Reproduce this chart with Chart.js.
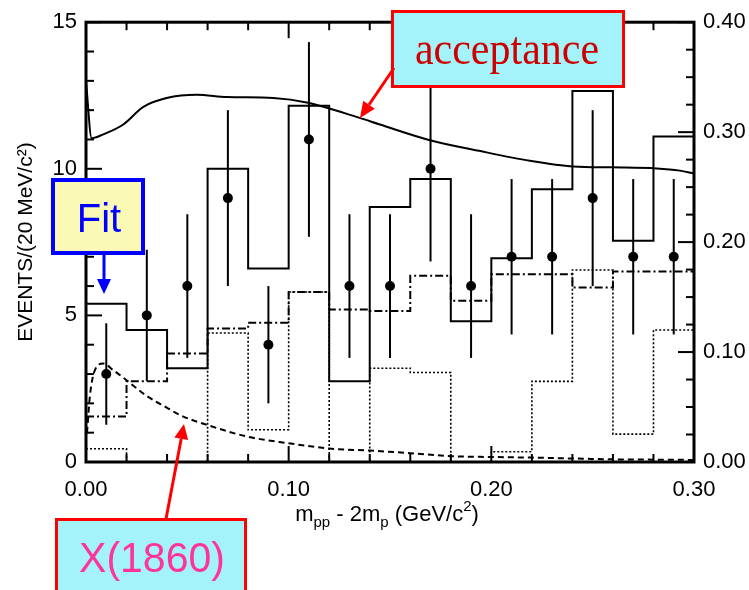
<!DOCTYPE html>
<html>
<head>
<meta charset="utf-8">
<script src="https://cdn.jsdelivr.net/npm/chart.js@4.4.1/dist/chart.umd.min.js"></script>
<style>
html,body{margin:0;padding:0;background:#fff;}
#wrap{width:749px;height:590px;position:relative;}
</style>
</head>
<body>
<div id="wrap"><canvas id="c" width="749" height="590"></canvas></div>
<script>
// ---- data ----
const binLowEdges = [0.00,0.02,0.04,0.06,0.08,0.10,0.12,0.14,0.16,0.18,0.20,0.22,0.24,0.26,0.28];
const binUpperEdge = 0.30;
const binCenters  = [0.01,0.03,0.05,0.07,0.09,0.11,0.13,0.15,0.17,0.19,0.21,0.23,0.25,0.27,0.29];
const eventCounts = [3,5,6,9,4,11,6,6,10,6,7,7,9,7,7];
const eventErrors = [1.73,2.24,2.45,3.0,2.0,3.32,2.45,2.45,3.16,2.45,2.65,2.65,3.0,2.65,2.65];
const fitTotal    = [5.4,4.5,3.2,10.0,6.6,12.15,2.75,8.7,9.65,4.8,6.95,9.3,12.65,7.55,11.1];
const fitDashDot  = [1.55,2.75,3.7,4.55,4.75,5.8,5.2,5.15,6.35,5.5,6.4,6.4,5.95,6.5,6.5];
const fitDotted   = [0.45,0,0,4.4,1.1,5.8,0,3.2,3.05,0,0.35,2.75,6.55,0.95,4.5];
const x1860X = [0.0005,0.002,0.0045,0.0085,0.0135,0.02,0.03,0.04,0.0464,0.06,0.08,0.10,0.12,0.14,0.16,0.18,0.20,0.22,0.24,0.26,0.28,0.30];
const x1860Y = [1.0,2.3,3.15,3.36,3.13,2.79,2.25,1.85,1.6,1.26,0.86,0.64,0.46,0.39,0.3,0.2,0.17,0.15,0.12,0.09,0.08,0.07];
const accX = [0.0,0.0028,0.0085,0.0184,0.0283,0.0398,0.0546,0.0694,0.0924,0.1089,0.135,0.145,0.1697,0.194,0.219,0.2405,0.26,0.2816,0.293,0.30];
const accY = [0.3465,0.2945,0.298,0.307,0.323,0.331,0.334,0.332,0.331,0.327,0.313,0.307,0.2927,0.283,0.274,0.2688,0.268,0.267,0.265,0.2624];
const xTickValues  = [0.00,0.10,0.20,0.30];
const yTickValues  = [0,5,10,15];
const y1TickValues = [0.00,0.10,0.20,0.30,0.40];

// ---- helpers ----
function histPoints(vals){
  const pts = binLowEdges.map((e,i)=>({x:e,y:vals[i]}));
  pts.push({x:binUpperEdge,y:vals[vals.length-1]});
  return pts;
}
const SANS = "'Liberation Sans', Arial, Helvetica, sans-serif";
Chart.defaults.font.family = SANS;
Chart.defaults.color = '#000';

function arrow(ctx,x1,y1,x2,y2,color,lw,hl,hw){
  const a = Math.atan2(y2-y1,x2-x1);
  const bx = x2 - hl*Math.cos(a), by = y2 - hl*Math.sin(a);
  ctx.save();
  ctx.strokeStyle=color; ctx.fillStyle=color; ctx.lineWidth=lw;
  ctx.beginPath(); ctx.moveTo(x1,y1); ctx.lineTo(bx,by); ctx.stroke();
  ctx.beginPath();
  ctx.moveTo(x2,y2);
  ctx.lineTo(bx + hw/2*Math.sin(a), by - hw/2*Math.cos(a));
  ctx.lineTo(bx - hw/2*Math.sin(a), by + hw/2*Math.cos(a));
  ctx.closePath(); ctx.fill();
  ctx.restore();
}
function box(ctx,x,y,w,h,fill,stroke,lw){
  ctx.save();
  ctx.fillStyle=fill; ctx.fillRect(x,y,w,h);
  ctx.strokeStyle=stroke; ctx.lineWidth=lw; ctx.strokeRect(x,y,w,h);
  ctx.restore();
}
function label(ctx,text,cx,base,font,color,sy){
  ctx.save();
  ctx.font=font; ctx.fillStyle=color; ctx.textAlign='center'; ctx.textBaseline='alphabetic';
  ctx.translate(cx,base); ctx.scale(1,sy||1);
  ctx.fillText(text,0,0);
  ctx.restore();
}

const framePlugin = {
  id:'frame',
  beforeDatasetsDraw(chart){
    // error bars
    const ctx=chart.ctx, xs=chart.scales.x, ys=chart.scales.y;
    ctx.save(); ctx.strokeStyle='#000'; ctx.lineWidth=2;
    binCenters.forEach((c,i)=>{
      const px = xs.getPixelForValue(c);
      ctx.beginPath();
      ctx.moveTo(px, ys.getPixelForValue(eventCounts[i]+eventErrors[i]));
      ctx.lineTo(px, ys.getPixelForValue(eventCounts[i]-eventErrors[i]));
      ctx.stroke();
    });
    ctx.restore();
  },
  afterDatasetsDraw(chart){
    const ctx=chart.ctx, a=chart.chartArea, xs=chart.scales.x, ys=chart.scales.y, y1=chart.scales.y1;
    ctx.save();
    ctx.strokeStyle='#000'; ctx.lineWidth=2;
    for(let k=0;k<=15;k++){
      const v=k*0.02, px=xs.getPixelForValue(v);
      const L = (k%5===0)?16:8;
      ctx.beginPath(); ctx.moveTo(px,a.bottom); ctx.lineTo(px,a.bottom-L); ctx.stroke();
      ctx.beginPath(); ctx.moveTo(px,a.top); ctx.lineTo(px,a.top+L); ctx.stroke();
    }
    for(let k=0;k<=15;k++){
      const py=ys.getPixelForValue(k); const L=(k%5===0)?16:8;
      ctx.beginPath(); ctx.moveTo(a.left,py); ctx.lineTo(a.left+L,py); ctx.stroke();
    }
    for(let k=0;k<=16;k++){
      const py=y1.getPixelForValue(k*0.025); const L=(k%4===0)?16:8;
      ctx.beginPath(); ctx.moveTo(a.right,py); ctx.lineTo(a.right-L,py); ctx.stroke();
    }
    ctx.lineWidth=3;
    ctx.strokeRect(a.left,a.top,a.right-a.left,a.bottom-a.top);
    ctx.restore();
  },
  afterDraw(chart){
    const ctx=chart.ctx;
    ctx.save();
    ctx.fillStyle='#000'; ctx.textBaseline='alphabetic'; ctx.textAlign='left';
    const parts=[['m',22,0],['pp',15,6],[' - 2m',22,0],['p',15,6],[' (GeV/c',22,0],['2',15,-10],[')',22,0]];
    let w=0; parts.forEach(p=>{ctx.font=p[1]+'px '+SANS; w+=ctx.measureText(p[0]).width;});
    let x=387-w/2; const base=521;
    parts.forEach(p=>{ctx.font=p[1]+'px '+SANS; ctx.fillText(p[0],x,base+p[2]); x+=ctx.measureText(p[0]).width;});
    ctx.restore();
    // annotations
    box(ctx,392.5,11.5,231,75,'#a5f3fa','#ff0000',3);
    label(ctx,'acceptance',507,64,"42px 'Liberation Serif', 'Times New Roman', serif",'#cc0000',1.1);
    arrow(ctx,394,68,360,118,'#ff0000',3,16,14);
    box(ctx,53,180,90,73,'#fafab4','#0000ff',4);
    label(ctx,'Fit',99,232,'40px '+SANS,'#0000ff',1);
    arrow(ctx,104,255,104,294,'#0000ff',3,15,14);
    arrow(ctx,166,519,184,424,'#ff0000',3,15,14);
    box(ctx,56.5,519.5,189,90,'#a5f3fa','#ff0000',3);
    label(ctx,'X(1860)',152,572,'41px '+SANS,'#ff3399',1.05);
  }
};

const tickFont = {size:22, family:SANS};
new Chart(document.getElementById('c'),{
  type:'line',
  data:{datasets:[
    {label:'Fit total', data:histPoints(fitTotal), stepped:'before', borderColor:'#000', borderWidth:2, pointRadius:0, fill:false, yAxisID:'y'},
    {label:'Fit component', data:histPoints(fitDashDot), stepped:'before', borderColor:'#000', borderWidth:2, borderDash:[8,3,2,3], pointRadius:0, fill:false, yAxisID:'y'},
    {label:'Fit component 2', data:histPoints(fitDotted), stepped:'before', borderColor:'#000', borderWidth:1.6, borderDash:[2,2], pointRadius:0, fill:false, yAxisID:'y'},
    {label:'X(1860)', data:x1860X.map((v,i)=>({x:v,y:x1860Y[i]})), borderColor:'#000', borderWidth:2, borderDash:[6,4], pointRadius:0, cubicInterpolationMode:'monotone', fill:false, yAxisID:'y'},
    {label:'acceptance', data:accX.map((v,i)=>({x:v,y:accY[i]})), borderColor:'#000', borderWidth:2, pointRadius:0, cubicInterpolationMode:'monotone', fill:false, yAxisID:'y1'},
    {label:'Data', data:binCenters.map((v,i)=>({x:v,y:eventCounts[i]})), showLine:false, pointRadius:5, pointHoverRadius:5, pointBackgroundColor:'#000', pointBorderColor:'#000', pointBorderWidth:0, yAxisID:'y'}
  ]},
  options:{
    responsive:false, animation:false, events:[],
    layout:{padding:{top:21,left:0,right:0,bottom:0}},
    plugins:{legend:{display:false}, tooltip:{enabled:false}},
    scales:{
      x:{type:'linear', min:0, max:0.3, grid:{display:false, drawTicks:false}, border:{display:false},
         afterBuildTicks:(s)=>{s.ticks=xTickValues.map(v=>({value:v}));},
         ticks:{font:tickFont, padding:15, maxRotation:0, autoSkip:false, callback:(v)=>Number(v).toFixed(2)},
         afterFit:(s)=>{s.height=128;}},
      y:{type:'linear', position:'left', min:0, max:15, grid:{display:false, drawTicks:false}, border:{display:false},
         afterBuildTicks:(s)=>{s.ticks=yTickValues.map(v=>({value:v}));},
         ticks:{font:tickFont, padding:9, callback:(v)=>String(v)},
         title:{display:true, text:'EVENTS/(20 MeV/c²)', font:{size:21,family:SANS}, padding:{top:14,bottom:0}},
         afterFit:(s)=>{s.width=86;}},
      y1:{type:'linear', position:'right', min:0, max:0.4, grid:{display:false, drawTicks:false}, border:{display:false},
         afterBuildTicks:(s)=>{s.ticks=y1TickValues.map(v=>({value:v}));},
         ticks:{font:tickFont, padding:9, callback:(v)=>Number(v).toFixed(2)},
         afterFit:(s)=>{s.width=55;}}
    }
  },
  plugins:[framePlugin]
});
</script>
</body>
</html>
